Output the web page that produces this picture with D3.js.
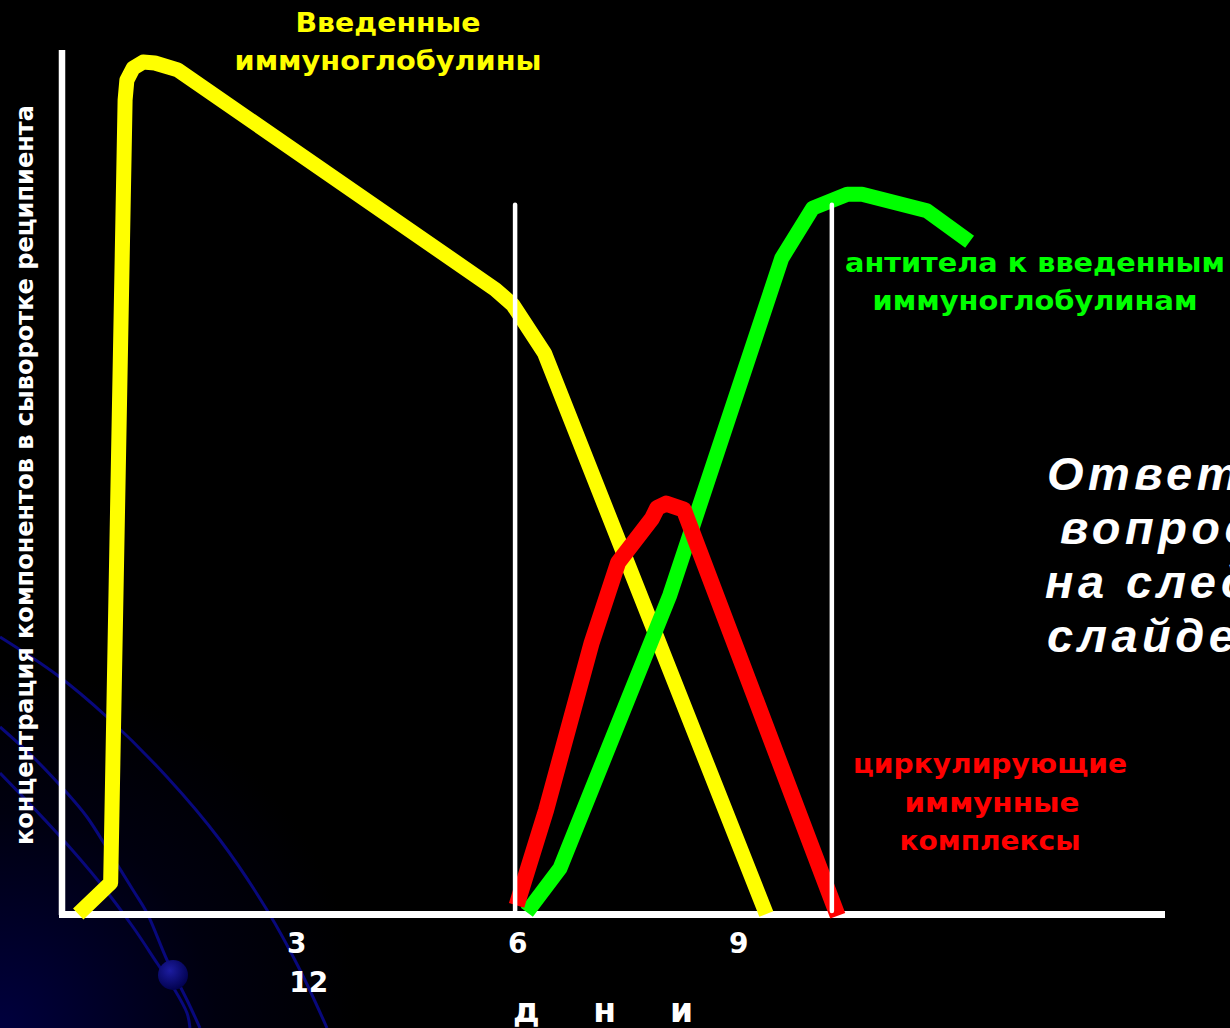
<!DOCTYPE html>
<html><head><meta charset="utf-8">
<script src="https://cdn.jsdelivr.net/npm/d3@7"></script>
<style>html,body{margin:0;padding:0;background:#000;overflow:hidden}</style>
</head><body><svg id="c" width="1230" height="1028"></svg>
<script>
// ---------- data ----------
const xTickDays = [3, 6, 9];
const xTickLabels = ["3", "6", "9"];
const xExtraLabel = "12";
const xAxisTitle = "д н и";
const yAxisTitle = "концентрация компонентов в сыворотке реципиента";

// injected immunoglobulins (yellow)
const igDays   = [0.04, 0.48, 0.676, 0.70, 0.785, 0.92, 1.08, 1.39, 5.70, 5.94, 6.37, 9.38];
const igValues = [0,    3.6,  94.2,  96.5, 97.9,  98.6, 98.5, 97.7, 72.3, 70.5, 64.9, 0];
// antibodies to injected immunoglobulins (green)
const abDays   = [6.13, 6.58, 8.07, 9.59, 10.01, 10.48, 10.68, 11.56, 12.14];
const abValues = [0.2,  5.3,  36.9, 75.9, 81.7,  83.3,  83.3,  81.4,  77.8];
// circulating immune complexes (red)
const icDays   = [5.99, 6.39, 7.01, 7.37, 7.83, 7.90, 8.02, 8.26, 10.35];
const icValues = [1.0,  12.0, 31.4, 40.7, 45.8, 47.0, 47.5, 46.8, -0.2];

const markerDays = [5.97, 10.27];
const markerTop = 82.1;

const igLabel = ["Введенные", "иммуноглобулины"];
const abLabel = ["антитела к введенным", "иммуноглобулинам"];
const icLabel = ["циркулирующие", "иммунные", "комплексы"];
const noteLines = ["Ответ на", "вопрос", "на следующем", "слайде"];

// ---------- layout ----------
const W = 1230, H = 1028;
const svg = d3.select("#c");
const x = d3.scaleLinear().domain([3, 9]).range([296.3, 738.3]);
const y = d3.scaleLinear().domain([0, 100]).range([914, 50]);
const FONT = "'DejaVu Sans', Verdana, sans-serif";

// background
const defs = svg.append("defs");
const rg = defs.append("radialGradient").attr("id", "glow")
  .attr("gradientUnits", "userSpaceOnUse").attr("cx", 0).attr("cy", H).attr("r", 360);
rg.append("stop").attr("offset", 0).attr("stop-color", "#00003e");
rg.append("stop").attr("offset", 0.6).attr("stop-color", "#00000f");
rg.append("stop").attr("offset", 1).attr("stop-color", "#000000");
const sg = defs.append("radialGradient").attr("id", "sph").attr("cx", 0.4).attr("cy", 0.35).attr("r", 0.7);
sg.append("stop").attr("offset", 0).attr("stop-color", "#1c1ca0");
sg.append("stop").attr("offset", 1).attr("stop-color", "#00004a");

svg.append("rect").attr("width", W).attr("height", H).attr("fill", "#000");
svg.append("rect").attr("width", W).attr("height", H).attr("fill", "url(#glow)");

// decorative arcs
const decoArcs = [
  [[0,637],[57,675],[107,717],[167,777],[220,840],[267,910],[300,970],[327,1028]],
  [[0,727],[33,757],[67,793],[87,817],[110,853],[133,890],[147,913],[167,960],[187,1000],[200,1028]],
  [[0,773],[57,833],[100,883],[133,927],[157,963],[173,987],[187,1013],[190,1028]]
];
const decoLine = d3.line().curve(d3.curveCatmullRom);
svg.append("g").selectAll("path").data(decoArcs).join("path")
  .attr("d", decoLine).attr("fill", "none").attr("stroke", "#08087c").attr("stroke-width", 3);
svg.append("circle").attr("cx", 173).attr("cy", 975).attr("r", 15).attr("fill", "url(#sph)");

// axes lines
svg.append("line").attr("x1", 62).attr("x2", 62).attr("y1", 50).attr("y2", y(0) + 1)
  .attr("stroke", "#fff").attr("stroke-width", 6.5);
svg.append("line").attr("x1", 59).attr("x2", 1165).attr("y1", y(0) + 0.5).attr("y2", y(0) + 0.5)
  .attr("stroke", "#fff").attr("stroke-width", 7);

// x tick labels through d3 axis
const xAxis = d3.axisBottom(x).tickValues(xTickDays)
  .tickFormat((d, i) => xTickLabels[i]).tickSize(0);
const gx = svg.append("g").attr("transform", `translate(0,${y(0)})`).call(xAxis);
gx.select(".domain").remove();
gx.selectAll("text").attr("dy", null).attr("y", 39)
  .attr("fill", "#fff").attr("font-family", FONT).attr("font-weight", "bold").attr("font-size", 28);
svg.append("text").attr("x", x(xTickDays[0]) - 7).attr("y", 992)
  .attr("fill", "#fff").attr("font-family", FONT).attr("font-weight", "bold").attr("font-size", 28)
  .text(xExtraLabel);
svg.append("text").attr("x", 513).attr("y", 1022)
  .attr("fill", "#fff").attr("font-family", FONT).attr("font-weight", "bold").attr("font-size", 33)
  .attr("textLength", 180).attr("lengthAdjust", "spacing").style("white-space", "pre")
  .text(xAxisTitle);

// y title
svg.append("text").attr("transform", "translate(33,475) rotate(-90)")
  .attr("text-anchor", "middle").attr("fill", "#fff").attr("font-family", FONT)
  .attr("font-weight", "bold").attr("font-size", 25)
  .attr("textLength", 740).attr("lengthAdjust", "spacingAndGlyphs").text(yAxisTitle);

// curves
const line = d3.line().x(d => x(d[0])).y(d => y(d[1]));
const series = [
  {days: igDays, vals: igValues, color: "#ffff00", w: 15},
  {days: abDays, vals: abValues, color: "#00ff00", w: 15},
  {days: icDays, vals: icValues, color: "#ff0000", w: 16}
];
svg.append("g").selectAll("path").data(series).join("path")
  .attr("d", s => line(s.days.map((d, i) => [d, s.vals[i]])))
  .attr("fill", "none").attr("stroke", s => s.color).attr("stroke-width", s => s.w)
  .attr("stroke-linejoin", "round").attr("stroke-linecap", "butt");

// white markers
svg.append("g").selectAll("line").data(markerDays).join("line")
  .attr("x1", d => x(d)).attr("x2", d => x(d))
  .attr("y1", y(markerTop)).attr("y2", y(0) - 3)
  .attr("stroke", "#fff").attr("stroke-width", 4.5).attr("stroke-linecap", "round");

// labels
function label(lines, color, cx, baselines, widths, size) {
  lines.forEach((t, i) => {
    svg.append("text").attr("x", cx[i]).attr("y", baselines[i])
      .attr("text-anchor", "middle").attr("fill", color)
      .attr("font-family", FONT).attr("font-weight", "bold").attr("font-size", size)
      .attr("textLength", widths[i]).attr("lengthAdjust", "spacingAndGlyphs").text(t);
  });
}
label(igLabel, "#ffff00", [388, 388], [32, 70], [185, 307], 27);
label(abLabel, "#00ff00", [1035, 1035], [272, 310], [380, 325], 27);
label(icLabel, "#ff0000", [990, 992, 990], [773, 812, 850], [274, 175, 181], 27);

// note text (partially off-canvas, as in the original slide)
const noteX = [1047, 1060, 1045, 1047];
const noteY = [490, 544, 598, 652];
noteLines.forEach((t, i) => {
  svg.append("text").attr("x", noteX[i]).attr("y", noteY[i])
    .attr("fill", "#fff").attr("font-family", "'Liberation Sans', Arial, sans-serif")
    .attr("font-weight", "bold").attr("font-style", "italic").attr("font-size", 47)
    .attr("letter-spacing", 4.5).text(t);
});
</script>
</body></html>
